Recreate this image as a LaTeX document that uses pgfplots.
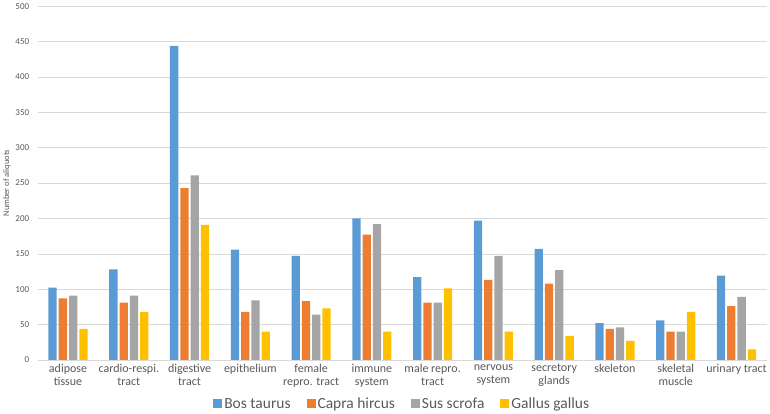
\documentclass[border=0pt]{standalone}
\usepackage{fontspec}
\setmainfont{Carlito}
\usepackage{pgfplots}
\pgfplotsset{compat=1.18}

\definecolor{cBos}{HTML}{5B9BD5}
\definecolor{cCapra}{HTML}{ED7D31}
\definecolor{cSus}{HTML}{A5A5A5}
\definecolor{cGallus}{HTML}{FFC000}
\definecolor{txt}{HTML}{595959}
\definecolor{gridc}{HTML}{D9D9D9}

\begin{document}
\begin{tikzpicture}
\begin{axis}[
    scale only axis,
    width=730pt, height=354pt,
    ybar=2pt,
    bar width=8.3pt,
    xmin=-0.5, xmax=11.5,
    ymin=0, ymax=500,
    ytick={0,50,...,500},
    xtick={0,...,11},
    xticklabels={adipose\\tissue, cardio-respi.\\tract, digestive\\tract, epithelium,
        female\\repro. tract, immune\\system, male repro.\\tract, nervous\\system,
        secretory\\glands, skeleton, skeletal\\muscle, urinary tract},
    x tick label style={font=\fontsize{12}{13}\selectfont, align=center, text=txt, anchor=north, yshift=-1pt},
    y tick label style={font=\fontsize{9}{10}\selectfont, text=txt, anchor=east, xshift=-5pt},
    /pgf/number format/assume math mode=true,
    ylabel={Number of aliquots},
    ylabel style={font=\fontsize{8.5}{9}\selectfont, text=txt, yshift=-2pt},
    axis x line*=bottom,
    axis y line*=left,
    x axis line style={gridc, -},
    y axis line style={draw=none},
    major tick length=0pt,
    ymajorgrids,
    grid style={gridc, line width=0.6pt},
    legend style={at={(0.5,-0.095)}, anchor=north, draw=none, fill=none,
        font=\fontsize{15.5}{17}\selectfont, text=txt, /tikz/every even column/.append style={column sep=14pt}},
    legend columns=4,
    legend image code/.code={\fill[#1] (0pt,-4.5pt) rectangle (9pt,4.5pt);},
    clip=false,
]
\addplot[fill=cBos, draw=none] coordinates {
    (0,102) (1,128) (2,444) (3,156) (4,147) (5,200) (6,117) (7,197) (8,157) (9,52) (10,56) (11,119)};
\addplot[fill=cCapra, draw=none] coordinates {
    (0,87) (1,81) (2,243) (3,68) (4,83) (5,177) (6,81) (7,113) (8,108) (9,44) (10,40) (11,76)};
\addplot[fill=cSus, draw=none] coordinates {
    (0,91) (1,91) (2,261) (3,84) (4,64) (5,192) (6,81) (7,147) (8,127) (9,46) (10,40) (11,89)};
\addplot[fill=cGallus, draw=none] coordinates {
    (0,44) (1,68) (2,191) (3,40) (4,73) (5,40) (6,101) (7,40) (8,34) (9,27) (10,68) (11,15)};
\legend{Bos taurus, Capra hircus, Sus scrofa, Gallus gallus}
\end{axis}
\end{tikzpicture}
\end{document}
